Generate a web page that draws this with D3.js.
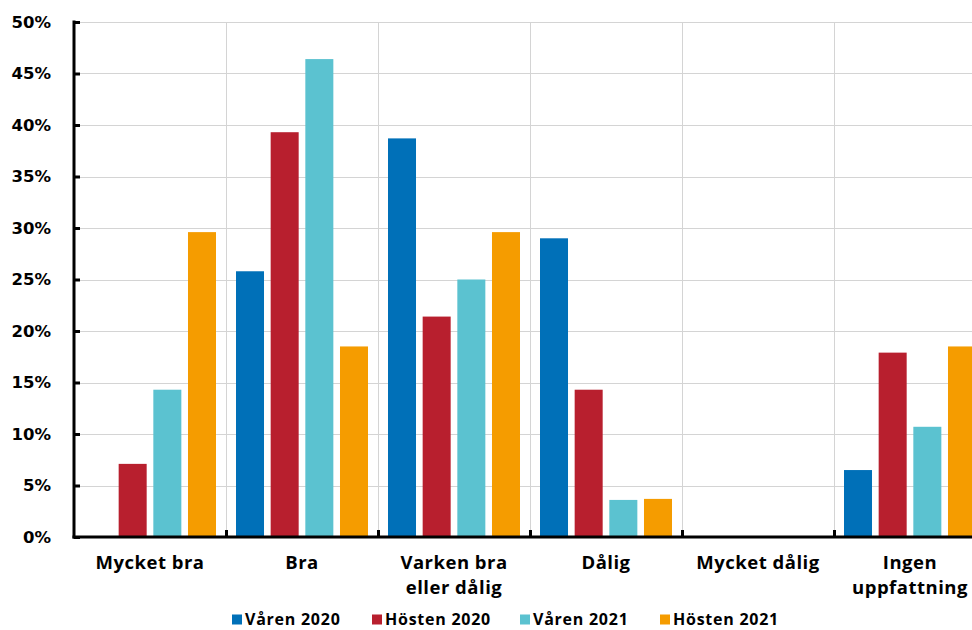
<!DOCTYPE html>
<html>
<head>
<meta charset="utf-8">
<script src="https://cdn.jsdelivr.net/npm/d3@7"></script>
<style>
  html, body { margin: 0; padding: 0; background: #fff; }
  svg { display: block; }
</style>
</head>
<body>
<svg id="chart" width="972" height="630"></svg>
<script>
// Categories (line-split labels) and series
const categories = ["Mycket bra", "Bra", "Varken bra eller dålig", "Dålig", "Mycket dålig", "Ingen uppfattning"];
const categoryLines = [["Mycket bra"], ["Bra"], ["Varken bra", "eller dålig"], ["Dålig"], ["Mycket dålig"], ["Ingen", "uppfattning"]];
const seriesNames = ["Våren 2020", "Hösten 2020", "Våren 2021", "Hösten 2021"];
const seriesColors = ["#0070b8", "#b81f2e", "#5bc2d0", "#f59c00"];

// Shares in percent per category
const varen2020  = [0.0, 25.8, 38.7, 29.0, 0.0, 6.5];
const hosten2020 = [7.1, 39.3, 21.4, 14.3, 0.0, 17.9];
const varen2021  = [14.3, 46.4, 25.0, 3.6, 0.0, 10.7];
const hosten2021 = [29.6, 18.5, 29.6, 3.7, 0.0, 18.5];
const seriesValues = [varen2020, hosten2020, varen2021, hosten2021];

const yTicks = [0, 5, 10, 15, 20, 25, 30, 35, 40, 45, 50];

const svg = d3.select("#chart");
const plot = { left: 74, right: 986, top: 22, bottom: 537 };

const x = d3.scaleBand().domain(categories).range([plot.left, plot.right]).paddingInner(0).paddingOuter(0);
const xInner = d3.scaleBand().domain(seriesNames).range([10, x.bandwidth() - 10]).paddingInner(0.192).paddingOuter(0);
const y = d3.scaleLinear().domain([0, 50]).range([plot.bottom, plot.top]);

const tickFont = "'DejaVu Sans', Verdana, sans-serif";
const labelFont = "'Open Sans', 'Noto Sans', sans-serif";

// Grid
const grid = svg.append("g").attr("stroke", "#d4d4d4").attr("stroke-width", 1);
grid.selectAll("line.h").data(yTicks.filter(d => d > 0)).join("line")
  .attr("x1", plot.left).attr("x2", plot.right)
  .attr("y1", d => Math.round(y(d)) + 0.5).attr("y2", d => Math.round(y(d)) + 0.5);
grid.selectAll("line.v").data(categories.slice(1).concat([null])).join("line")
  .attr("x1", d => (d === null ? plot.right : x(d)) + 0.5)
  .attr("x2", d => (d === null ? plot.right : x(d)) + 0.5)
  .attr("y1", plot.top).attr("y2", plot.bottom);

// Bars
const rows = categories.map((c, i) => ({ c, vals: seriesNames.map((s, j) => ({ s, v: seriesValues[j][i], color: seriesColors[j] })) }));
const groups = svg.append("g").selectAll("g").data(rows).join("g")
  .attr("transform", d => `translate(${x(d.c)},0)`);
groups.selectAll("rect").data(d => d.vals).join("rect")
  .attr("x", d => xInner(d.s))
  .attr("width", xInner.bandwidth())
  .attr("y", d => y(d.v))
  .attr("height", d => y(0) - y(d.v))
  .attr("fill", d => d.color);

// Y axis
const yAxis = d3.axisRight(y).tickValues(yTicks).tickSize(6).tickFormat("");
const yg = svg.append("g").attr("transform", `translate(${plot.left},0)`).call(yAxis);
yg.select(".domain").remove();
yg.selectAll(".tick line").attr("stroke", "#000").attr("stroke-width", 3);
svg.append("line").attr("x1", plot.left).attr("x2", plot.left)
  .attr("y1", plot.top - 1.5).attr("y2", plot.bottom + 1.5)
  .attr("stroke", "#000").attr("stroke-width", 3);
svg.append("g").selectAll("text").data(yTicks).join("text")
  .attr("x", 51).attr("y", d => y(d)).attr("dy", "0.36em")
  .attr("text-anchor", "end")
  .attr("font-family", tickFont).attr("font-weight", "bold").attr("font-size", 16.5)
  .attr("fill", "#000").text(d => d + "%");

// X axis
svg.append("line").attr("x1", plot.left - 1.5).attr("x2", plot.right)
  .attr("y1", plot.bottom).attr("y2", plot.bottom)
  .attr("stroke", "#000").attr("stroke-width", 3);
svg.append("g").selectAll("line").data(categories.slice(1)).join("line")
  .attr("x1", d => x(d) + 0.5).attr("x2", d => x(d) + 0.5)
  .attr("y1", plot.bottom).attr("y2", plot.bottom - 7)
  .attr("stroke", "#000").attr("stroke-width", 3);

const catLabels = svg.append("g").selectAll("text").data(categories).join("text")
  .attr("x", d => x(d) + x.bandwidth() / 2)
  .attr("y", 569)
  .attr("text-anchor", "middle")
  .attr("font-family", labelFont).attr("font-weight", "bold").attr("font-size", 18.5)
  .attr("letter-spacing", 0.5)
  .attr("fill", "#000");
catLabels.selectAll("tspan").data((d, i) => categoryLines[i]).join("tspan")
  .attr("x", function () { return d3.select(this.parentNode).attr("x"); })
  .attr("dy", (d, i) => i === 0 ? 0 : 25)
  .text(d => d);

// Legend
const legendX = [232, 372, 520, 660];
const legend = svg.append("g").selectAll("g").data(seriesNames).join("g")
  .attr("transform", (d, i) => `translate(${legendX[i]},619.5)`);
legend.append("rect").attr("x", 0).attr("y", -5).attr("width", 10).attr("height", 10)
  .attr("fill", (d, i) => seriesColors[i]);
legend.append("text").attr("x", 13).attr("y", 5.5)
  .attr("font-family", labelFont).attr("font-weight", "bold").attr("font-size", 16)
  .attr("letter-spacing", 0.75)
  .attr("fill", "#000").text(d => d);
</script>
</body>
</html>
